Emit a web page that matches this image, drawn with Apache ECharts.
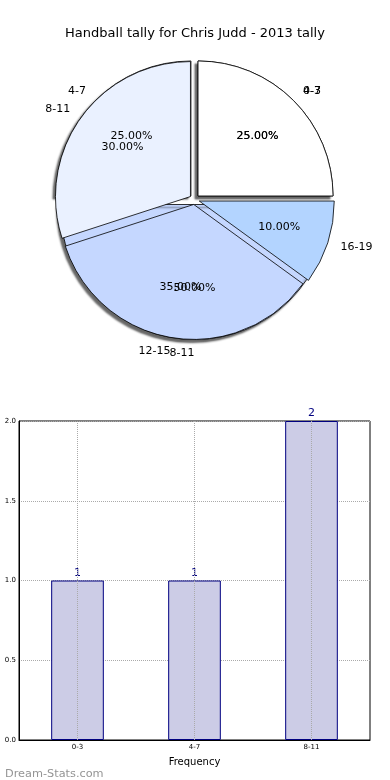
<!DOCTYPE html>
<html><head><meta charset="utf-8">
<script src="https://cdn.jsdelivr.net/npm/echarts@6/dist/echarts.min.js"></script>
<style>html,body{margin:0;padding:0;background:#fff}#c{width:390px;height:780px}</style>
</head><body><div id="c"></div>
<script>
const titleText = 'Handball tally for Chris Judd - 2013 tally';
const watermarkText = 'Dream-Stats.com';
const pieACategories = ['0-3', '4-7', '8-11'];
const pieAValues = [1, 1, 2];
const pieBCategories = ['4-7', '8-11', '12-15', '16-19'];
const pieBValues = [25, 30, 35, 10];
const pieColors = ['#ffffff', '#eaf1ff', '#c5d7ff', '#b3d4ff'];
const barCategories = ['0-3', '4-7', '8-11'];
const barValues = [1, 1, 2];
const yTicks = [0, 0.5, 1.0, 1.5, 2.0];

const FONT = 'DejaVu Sans';
const R = 135, CX = 194.5, CY = 199.5, OFF = 5;

function wedgeSeries(names, values, z, shadow) {
  return {
    type: 'pie', z: z, center: [CX, CY], radius: [0, R], startAngle: 0, clockwise: false,
    selectedMode: 'multiple', selectedOffset: OFF, avoidLabelOverlap: false, animation: false,
    labelLayout: { hideOverlap: false },
    data: names.map((n, i) => ({ name: n, value: values[i], selected: true, itemStyle: { color: pieColors[i] } })),
    itemStyle: {
      borderColor: '#000', borderWidth: 0.8,
      shadowBlur: shadow ? 2 : 0, shadowColor: shadow ? 'rgba(0,0,0,0.6)' : 'rgba(0,0,0,0)',
      shadowOffsetX: -3, shadowOffsetY: 3
    },
    label: { show: true, position: 'outside', formatter: '{b}', color: '#000', fontSize: 11, fontFamily: FONT, distanceToLabelLine: 0 },
    labelLine: { show: true, length: R * 0.1, length2: 0, lineStyle: { width: 0, opacity: 0 } },
    emphasis: { disabled: true }
  };
}
function pctSeries(names, values, z) {
  return {
    type: 'pie', z: z, center: [CX, CY], radius: [R * 0.2, R], startAngle: 0, clockwise: false,
    selectedMode: 'multiple', selectedOffset: OFF, avoidLabelOverlap: false, animation: false, silent: true,
    labelLayout: { hideOverlap: false },
    data: names.map((n, i) => ({ name: n, value: values[i], selected: true })),
    itemStyle: { color: 'rgba(0,0,0,0)', borderWidth: 0 },
    label: { show: true, position: 'inside', formatter: p => p.percent.toFixed(2) + '%', color: '#000', fontSize: 11, fontFamily: FONT },
    labelLine: { show: false },
    emphasis: { disabled: true }
  };
}

const chart = echarts.init(document.getElementById('c'), null, { renderer: 'canvas' });
chart.setOption({
  animation: false,
  backgroundColor: '#fff',
  title: [
    { text: titleText, left: 'center', top: 22, textStyle: { fontSize: 13, fontWeight: 'normal', fontFamily: FONT, color: '#000' } },
    { text: watermarkText, left: 0, top: 764, textStyle: { fontSize: 11.3, fontWeight: 'normal', fontFamily: FONT, color: '#949494' } }
  ],
  grid: { left: 19, right: 20, top: 421, bottom: 40, show: true, borderColor: '#000', borderWidth: 1, backgroundColor: 'rgba(0,0,0,0)' },
  xAxis: {
    type: 'category', data: barCategories,
    axisLine: { show: true, lineStyle: { color: '#000' } }, axisTick: { show: false },
    axisLabel: { fontSize: 7, color: '#000', fontFamily: FONT, margin: 4 },
    name: 'Frequency', nameLocation: 'middle', nameGap: 17,
    nameTextStyle: { fontSize: 10, color: '#000', fontFamily: FONT },
    splitLine: { show: false }
  },
  yAxis: {
    type: 'value', min: yTicks[0], max: yTicks[yTicks.length - 1], interval: yTicks[1] - yTicks[0],
    axisLine: { show: true, lineStyle: { color: '#000' } }, axisTick: { show: false },
    axisLabel: { fontSize: 7, color: '#000', fontFamily: FONT, margin: 3, formatter: v => v.toFixed(1) },
    splitLine: { show: true, lineStyle: { type: 'dotted', color: '#aaa', width: 1 } }
  },
  series: [
    wedgeSeries(pieACategories, pieAValues, 2, true),
    wedgeSeries(pieBCategories, pieBValues, 3, false),
    pctSeries(pieACategories, pieAValues, 4),
    pctSeries(pieBCategories, pieBValues, 5),
    {
      type: 'bar', data: barValues, barWidth: '45%',
      itemStyle: { color: '#cccce6', borderColor: '#000080', borderWidth: 1 },
      label: { show: true, position: 'top', color: '#000080', fontSize: 11, fontFamily: FONT, distance: 2 },
      markLine: {
        silent: true, symbol: 'none', label: { show: false },
        lineStyle: { type: 'dotted', color: '#aaa', width: 1 },
        data: barCategories.map(c => ({ xAxis: c }))
      },
      emphasis: { disabled: true }
    }
  ]
});
</script></body></html>
